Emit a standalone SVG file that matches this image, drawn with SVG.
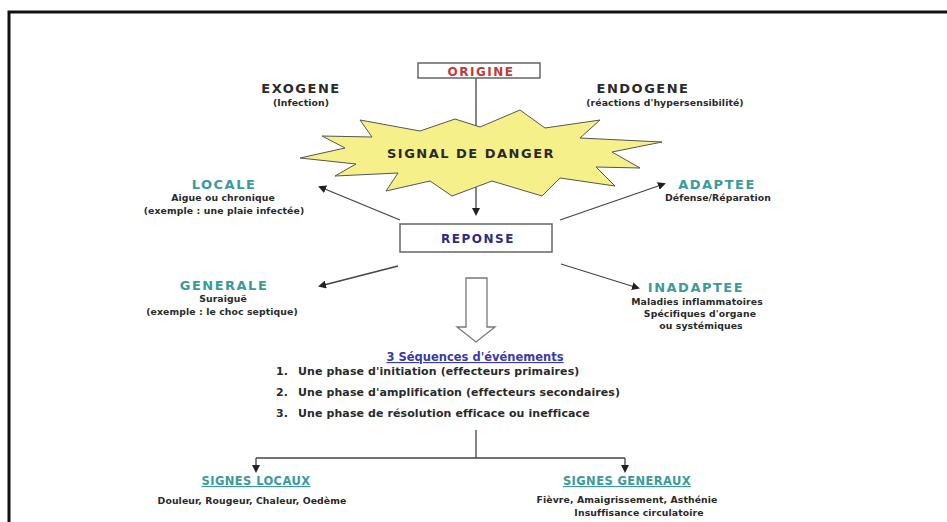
<svg xmlns="http://www.w3.org/2000/svg" width="947" height="522" viewBox="0 0 947 522">
<defs>
<marker id="ah" markerWidth="8" markerHeight="8" refX="6" refY="4" orient="auto" markerUnits="userSpaceOnUse">
<path d="M0,0 L8,4 L0,8 Z" fill="#222"/>
</marker>
<style>
text{font-family:"DejaVu Sans","Liberation Sans",sans-serif;font-weight:bold;text-anchor:middle;fill:#2a2a2a}
.h{font-size:13px;letter-spacing:1.5px}
.s{font-size:9.3px;letter-spacing:0.1px}
.q{font-size:11px;text-anchor:start;letter-spacing:0.1px}
.teal{fill:#3a9a9c}
.u{font-size:11.5px;letter-spacing:0.4px;text-decoration:underline}
.box{fill:#fff;stroke:#666;stroke-width:1.5}
.ln{stroke:#444;stroke-width:1.3;fill:none}
</style>
</defs>
<rect x="0" y="0" width="947" height="522" fill="#fff"/>
<path d="M9,522 V12 H947" fill="none" stroke="#111" stroke-width="3"/>

<g id="connectors">
<line class="ln" x1="476" y1="78" x2="476" y2="214" marker-end="url(#ah)"/>
<line class="ln" x1="400" y1="220" x2="320" y2="187" marker-end="url(#ah)"/>
<line class="ln" x1="560" y1="220" x2="664" y2="184" marker-end="url(#ah)"/>
<line class="ln" x1="398" y1="266" x2="320" y2="286" marker-end="url(#ah)"/>
<line class="ln" x1="561" y1="264" x2="638" y2="288" marker-end="url(#ah)"/>
<path d="M466,278 H487 V327 H495 L476,342 L457,327 H466 Z" fill="#fff" stroke="#777" stroke-width="1.3"/>
<path class="ln" d="M476,430 V458 M256,458 H625"/>
<line class="ln" x1="256" y1="458" x2="256" y2="471" marker-end="url(#ah)"/>
<line class="ln" x1="625" y1="458" x2="625" y2="471" marker-end="url(#ah)"/>
</g>

<g id="origine">
<rect class="box" x="418" y="63" width="122" height="15"/>
<text x="481" y="75.5" style="font-size:12px;letter-spacing:1.5px;fill:#c23a3a">ORIGINE</text>
</g>

<g id="exogene">
<text class="h" x="301" y="93">EXOGENE</text>
<text class="s" x="301" y="106">(Infection)</text>
</g>

<g id="endogene">
<text class="h" x="643" y="93">ENDOGENE</text>
<text class="s" x="665" y="106">(réactions d'hypersensibilité)</text>
</g>

<g id="signal">
<polygon points="300,158 345,148 322,136 372,137 360,120 420,131 455,119 480,127 520,110 545,128 600,120 580,138 662,142 612,152 640,168 596,167 615,186 560,178 542,196 492,181 452,196 430,181 386,191 398,173 335,176 356,164" fill="#f6f08a" stroke="#555" stroke-width="1"/>
<text x="471" y="158" style="font-size:13px;letter-spacing:1.5px">SIGNAL DE DANGER</text>
</g>

<g id="locale">
<text class="h teal" x="224" y="189">LOCALE</text>
<text class="s" x="223" y="201">Aigue ou chronique</text>
<text class="s" x="224" y="214">(exemple : une plaie infectée)</text>
</g>

<g id="adaptee">
<text class="h teal" x="717" y="189">ADAPTEE</text>
<text class="s" x="718" y="201">Défense/Réparation</text>
</g>

<g id="reponse">
<rect class="box" x="400" y="224" width="152" height="28"/>
<text x="478" y="243" style="font-size:12px;letter-spacing:1.5px;fill:#2c2c80">REPONSE</text>
</g>

<g id="generale">
<text class="h teal" x="224" y="290">GENERALE</text>
<text class="s" x="223" y="302">Suraiguë</text>
<text class="s" x="222" y="315">(exemple : le choc septique)</text>
</g>

<g id="inadaptee">
<text class="h teal" x="696" y="292">INADAPTEE</text>
<text class="s" x="697" y="305">Maladies inflammatoires</text>
<text class="s" x="700" y="317">Spécifiques d'organe</text>
<text class="s" x="701" y="329">ou systémiques</text>
</g>

<g id="sequences">
<text x="475" y="361" style="font-size:11.5px;fill:#3a3aa8;text-decoration:underline">3 Séquences d'événements</text>
<text class="q" x="276" y="375">1.</text><text class="q" x="298" y="375">Une phase d'initiation (effecteurs primaires)</text>
<text class="q" x="276" y="396">2.</text><text class="q" x="298" y="396">Une phase d'amplification (effecteurs secondaires)</text>
<text class="q" x="276" y="417">3.</text><text class="q" x="298" y="417">Une phase de résolution efficace ou inefficace</text>
</g>

<g id="signes-locaux">
<text class="u teal" x="256" y="485">SIGNES LOCAUX</text>
<text class="s" x="252" y="504">Douleur, Rougeur, Chaleur, Oedème</text>
</g>

<g id="signes-generaux">
<text class="u teal" x="627" y="485">SIGNES GENERAUX</text>
<text class="s" x="627" y="503">Fièvre, Amaigrissement, Asthénie</text>
<text class="s" x="639" y="516">Insuffisance circulatoire</text>
</g>
</svg>
